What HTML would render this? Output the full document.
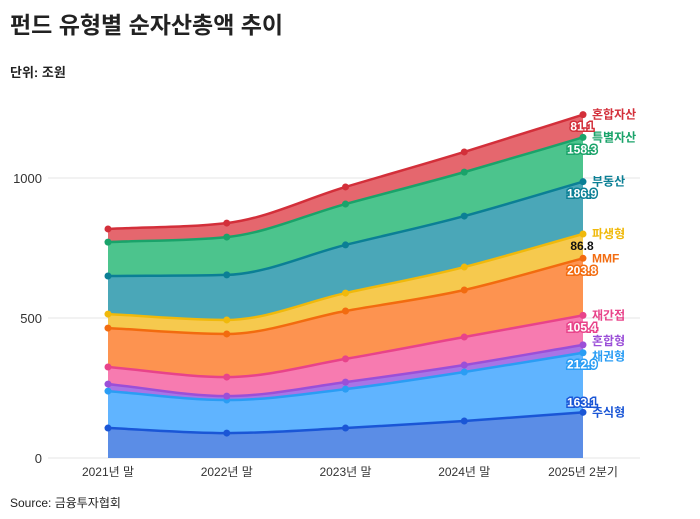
<!DOCTYPE html>
<html><head><meta charset="utf-8"><style>
body{margin:0;background:#fff;font-family:"Liberation Sans","Noto Sans CJK KR",sans-serif;}
#wrap{position:relative;width:700px;height:519px;}
.t{position:absolute;left:10px;color:#222;}
</style></head><body>
<div id="wrap">
<div class="t" style="top:6px;font-size:23px;font-weight:bold;">펀드 유형별 순자산총액 추이</div>
<div class="t" style="top:62px;font-size:13px;font-weight:bold;">단위: 조원</div>
<div class="t" style="top:494px;font-size:12px;">Source: 금융투자협회</div>
<svg id="chart" width="700" height="519" style="position:absolute;left:0;top:0"></svg>
</div>
<script>
const categories=["2021년 말","2022년 말","2023년 말","2024년 말","2025년 2분기"];
const seriesNames=["주식형","채권형","혼합형","재간접","MMF","파생형","부동산","특별자산","혼합자산"];
const s주식=[107,89,107,132,163.1];
const s채권=[132,118,139,175,212.9];
const s혼합=[25,14,25,25,28];
const s재간접=[61,68,83,100,105.4];
const sMMF=[139,154,171,168,203.8];
const s파생=[50,50,64,82,86.8];
const s부동산=[136,161,172,182,186.9];
const s특별=[121,135,146,157,158.3];
const s혼합자산=[47,50,61,72,81.1];
const yTicks=[0,500,1000];
const seriesVals=[s주식,s채권,s혼합,s재간접,sMMF,s파생,s부동산,s특별,s혼합자산];
const fills=["#5b8de6","#60b4ff","#a874e6","#f77bb0","#fd9350","#f6c94e","#4aa7b8","#4cc48d","#e5676e"];
const lines=["#1a56d6","#2a9df4","#9b4fd8","#e8438a","#f26b0f","#f0b90b","#0b7f95","#1aa36a","#d32f3a"];
const ns="http://www.w3.org/2000/svg";
const svg=document.getElementById("chart");
const x=i=>108+i*118.75;
const y=v=>458-v*0.28;
function mk(t,a){const e=document.createElementNS(ns,t);for(const k in a)e.setAttribute(k,a[k]);svg.appendChild(e);return e;}
yTicks.forEach(v=>{
 const g=mk("line",{x1:48,x2:640,y1:y(v),y2:y(v),stroke:"#e4e4e4","stroke-width":1});
 
 
 const t=mk("text",{x:42,y:y(v)+5,"text-anchor":"end","font-size":13,fill:"#333"});t.textContent=v;
 
 
});
categories.forEach((c,i)=>{
 const t=mk("text",{x:x(i),y:476,"text-anchor":"middle","font-size":12,fill:"#333"});t.textContent=c;
 
 
});
function mono(pts){
 const n=pts.length,d=[],m=[];
 for(let i=0;i<n-1;i++)d.push((pts[i+1][1]-pts[i][1])/(pts[i+1][0]-pts[i][0]));
 for(let i=0;i<n;i++){
  if(i==0)m.push(d[0]);else if(i==n-1)m.push(d[n-2]);
  else m.push(d[i-1]*d[i]<=0?0:3*(d[i-1]+d[i])/ (2*(d[i-1]/d[i]+1)+ (d[i]/d[i-1]+1)) );
 }
 let s="";
 for(let i=0;i<n-1;i++){const h=(pts[i+1][0]-pts[i][0])/3;
  s+=` C${pts[i][0]+h},${pts[i][1]+m[i]*h} ${pts[i+1][0]-h},${pts[i+1][1]-m[i+1]*h} ${pts[i+1][0]},${pts[i+1][1]}`;}
 return s;
}
let base=categories.map(()=>0);
const tops=[];
seriesVals.forEach((vals,k)=>{
 const top=base.map((b,i)=>b+vals[i]);
 const tp=top.map((v,i)=>[x(i),y(v)]);
 const bp=base.map((v,i)=>[x(i),y(v)]).reverse();
 const d=`M${tp[0][0]},${tp[0][1]}`+mono(tp)+` L${bp[0][0]},${bp[0][1]}`+mono(bp)+"Z";
 const a=mk("path",{d:d,fill:fills[k],stroke:"none"});
 
 
 tops.push(tp);base=top;
});
tops.forEach((tp,k)=>{
 const l=mk("path",{d:`M${tp[0][0]},${tp[0][1]}`+mono(tp),fill:"none",stroke:lines[k],"stroke-width":2.5});
 
 
 tp.forEach(p=>{const c=mk("circle",{cx:p[0],cy:p[1],r:3.5,fill:lines[k]});
  
  });
 const last=tp[tp.length-1];
 const nameOff=[0,4,-4,0,0,0,0,0,0][k];
 const n=mk("text",{x:x(4)+9,y:last[1]+nameOff+4,"font-size":12,"font-weight":"bold",fill:lines[k]});
 n.textContent=k==4?"MMF":seriesNames[k]==="혼합형"?"혼합형":seriesNames[k]+(k<2?"":"");
 
 
 const vy=k==0?last[1]-6:last[1]+16;
 const v=seriesVals[k][4];
 if(k==2)return;
 const vt=mk("text",{x:x(4)-1,y:vy,"text-anchor":"middle","font-size":12,"font-weight":"bold",
  fill:k==5?"#111":"#fff",stroke:k==5?"none":lines[k],"stroke-width":3,"paint-order":"stroke"});
 vt.textContent=v.toFixed(1);
 
 
});
</script>
</body></html>
